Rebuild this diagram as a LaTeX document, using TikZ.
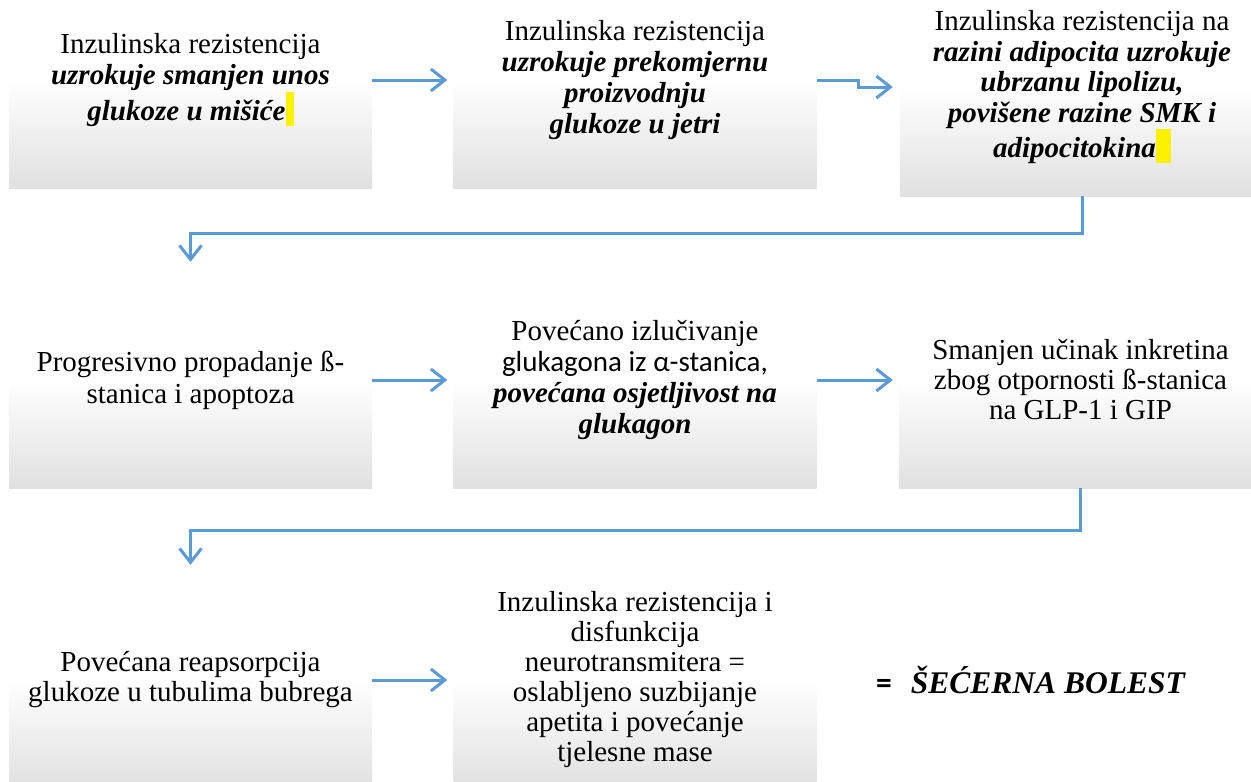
\documentclass[tikz,border=0pt]{standalone}
\usepackage{fontspec}
\setmainfont{Liberation Serif}[
  UprightFont={Liberation Serif},
  BoldFont={Liberation Serif Bold},
  ItalicFont={Liberation Serif Italic},
  BoldItalicFont={Liberation Serif Bold Italic}]
\newfontfamily\calfont{Carlito}
\newfontfamily\bifont{Liberation Serif Bold Italic}
\usetikzlibrary{arrows.meta}
\definecolor{arrblue}{HTML}{5B9BD5}
\newcommand\hlmark[1]{{\color{yellow}\rule[-6pt]{#1}{34pt}}}
\newcommand\bi[1]{{\bifont #1}}
\tikzset{
  box/.style={rectangle, inner sep=0pt, minimum width=363pt, minimum height=216pt,
    shading=axis, top color=white, bottom color=gray!24, middle color=white,
    align=center, font=\fontsize{29}{31}\selectfont},
  arr/.style={draw=arrblue, line width=3pt,
    -{Straight Barb[length=14pt,width=22pt]}},
}
\begin{document}
\begin{tikzpicture}[x=1pt,y=-1pt]
\useasboundingbox (0,0) rectangle (1251,782);
\clip (0,0) rectangle (1251,782);
% row 1
\node[box] (B1) at (190.5,80) {Inzulinska rezistencija\\ \bi{uzrokuje smanjen unos}\\ \bi{glukoze u mišiće}\hlmark{8pt}};
\node[box] (B2) at (635,80) {Inzulinska rezistencija\\ \bi{uzrokuje prekomjernu}\\ \bi{proizvodnju}\\ \bi{glukoze u jetri}};
\node[box, minimum width=364pt, minimum height=218pt, font=\fontsize{29}{30.5}\selectfont] (B3) at (1082,87) {Inzulinska rezistencija na\\ \bi{razini adipocita uzrokuje}\\ \bi{ubrzanu lipolizu,}\\ \bi{povišene razine SMK i}\\ \bi{adipocitokina}\hlmark{15pt}};
% row 2
\node[box, font=\fontsize{29}{32}\selectfont] (B4) at (190.5,380) {Progresivno propadanje ß-\\ stanica i apoptoza};
\node[box] (B5) at (635,380) {Povećano izlučivanje\\ {\calfont glukagona iz α-stanica,}\\ \bi{povećana osjetljivost na}\\ \bi{glukagon}};
\node[box, font=\fontsize{29}{30}\selectfont] (B6) at (1080.5,380) {Smanjen učinak inkretina\\ zbog otpornosti ß-stanica\\ na GLP-1 i GIP};
% row 3
\node[box, font=\fontsize{29}{30}\selectfont] (B7) at (190.5,680) {Povećana reapsorpcija\\ glukoze u tubulima bubrega};
\node[box, font=\fontsize{29}{30}\selectfont] (B8) at (635,680) {Inzulinska rezistencija i\\ disfunkcija\\ neurotransmitera =\\ oslabljeno suzbijanje\\ apetita i povećanje\\ tjelesne mase};
\node[anchor=base west, inner sep=0pt, font=\fontsize{31.5}{33}\selectfont] (R) at (876,693) {{\calfont\bfseries =}\hspace{19pt}\bi{ŠEĆERNA BOLEST}};
% connectors
\coordinate (t1) at (0,233);
\coordinate (t2) at (0,530);
\draw[arr, shorten >=6pt] (B1.east) -- (B2.west);
\draw[arr, shorten >=7pt] (B2.east) -- ++(42,0) |- (B3.west);
\draw[arr, shorten >=10pt] (B3.south) -- (B3.south |- t1) -| (B4.north);
\draw[arr, shorten >=6pt] (B4.east) -- (B5.west);
\draw[arr, shorten >=6pt] (B5.east) -- (B6.west);
\draw[arr, shorten >=7pt] (B6.south) -- (B6.south |- t2) -| (B7.north);
\draw[arr, shorten >=6pt] (B7.east) -- (B8.west);
\end{tikzpicture}
\end{document}
